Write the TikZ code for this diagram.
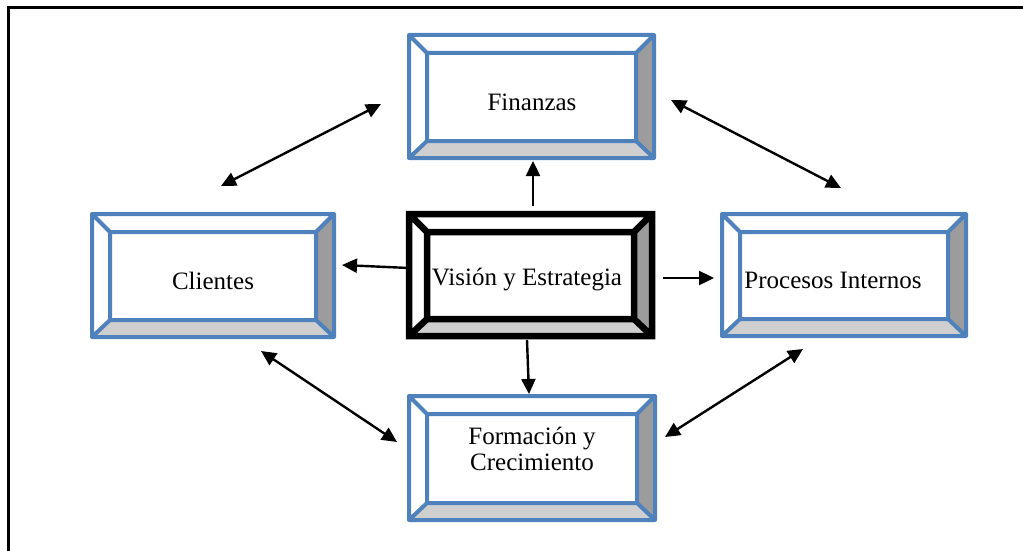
\documentclass[tikz,border=0pt]{standalone}
\usepackage{fontspec}
\setmainfont{Liberation Serif}
\usetikzlibrary{arrows.meta,calc}
\definecolor{bevblue}{HTML}{4F81BD}
\definecolor{sidegray}{HTML}{9C9C9C}
\definecolor{botgray}{HTML}{CFCFCF}
\tikzset{
  bluebox/.style={draw=bevblue,line width=4pt,line join=round},
  blackbox/.style={draw=black,line width=6.5pt,line join=miter},
  boxtext/.style={font=\fontsize{25}{25.5}\selectfont,align=center,inner sep=0pt},
  dbl/.style={line width=2.4pt,{Triangle[length=15pt,width=14pt]}-{Triangle[length=15pt,width=14pt]}},
  sgl/.style={line width=2.4pt,-{Triangle[length=15pt,width=14pt]}},
  frameline/.style={line width=3pt}
}
\newcommand\bevbox[8]{%
  \pgfmathsetmacro\bvAx{#2+18}\pgfmathsetmacro\bvAy{#3+18}%
  \pgfmathsetmacro\bvBx{#4-18}\pgfmathsetmacro\bvBy{#5-17}%
  \fill[sidegray] (#4,#3) -- (#4,#5) -- (\bvBx,\bvBy) -- (\bvBx,\bvAy) -- cycle;
  \fill[botgray] (#2,#5) -- (#4,#5) -- (\bvBx,\bvBy) -- (\bvAx,\bvBy) -- cycle;
  \draw[#6] (#2,#3) rectangle (#4,#5) (\bvAx,\bvAy) rectangle (\bvBx,\bvBy)
    (#2,#3) -- (\bvAx,\bvAy) (#4,#3) -- (\bvBx,\bvAy)
    (#2,#5) -- (\bvAx,\bvBy) (#4,#5) -- (\bvBx,\bvBy);
  \node[boxtext] (#1) at #7 {#8};
}
\begin{document}
\begin{tikzpicture}[x=1pt,y=-1pt]
\useasboundingbox (0,0) rectangle (1023,551);
\draw[frameline] (8,551) -- (8,8) -- (1023,8);
\bevbox{fin}{409}{35}{654}{158}{bluebox}{(532,102)}{Finanzas}
\bevbox{cli}{92}{214}{334}{337}{bluebox}{(213,281)}{Clientes}
\bevbox{vis}{409}{214}{652}{336}{blackbox}{(527,280)}{Visión y Estrategia}
\bevbox{pro}{722}{214}{966}{336}{bluebox}{(833,280)}{Procesos Internos}
\bevbox{for}{409}{396}{655}{520}{bluebox}{(532,449)}{Formación y\\Crecimiento}
\coordinate (fcA) at (381,104);
\coordinate (fcB) at (221,186);
\coordinate (fpA) at (671,100);
\coordinate (fpB) at (841,188);
\coordinate (cfA) at (261,351);
\coordinate (cfB) at (397,442);
\coordinate (pfA) at (803,349);
\coordinate (pfB) at (665,437);
\coordinate (vcA) at (409,268);
\coordinate (vcB) at (342,265);
\coordinate (vfA) at (533,206);
\coordinate (vfB) at (533,161);
\coordinate (vpA) at (663,278);
\coordinate (vpB) at (714,278);
\coordinate (voA) at (527,340);
\coordinate (voB) at (529,394);
\draw[dbl] (fcA) -- (fcB);
\draw[dbl] (fpA) -- (fpB);
\draw[dbl] (cfA) -- (cfB);
\draw[dbl] (pfA) -- (pfB);
\draw[sgl] (vcA) -- (vcB);
\draw[sgl] (vfA) -- (vfB);
\draw[sgl] (vpA) -- (vpB);
\draw[sgl] (voA) -- (voB);
\end{tikzpicture}
\end{document}
